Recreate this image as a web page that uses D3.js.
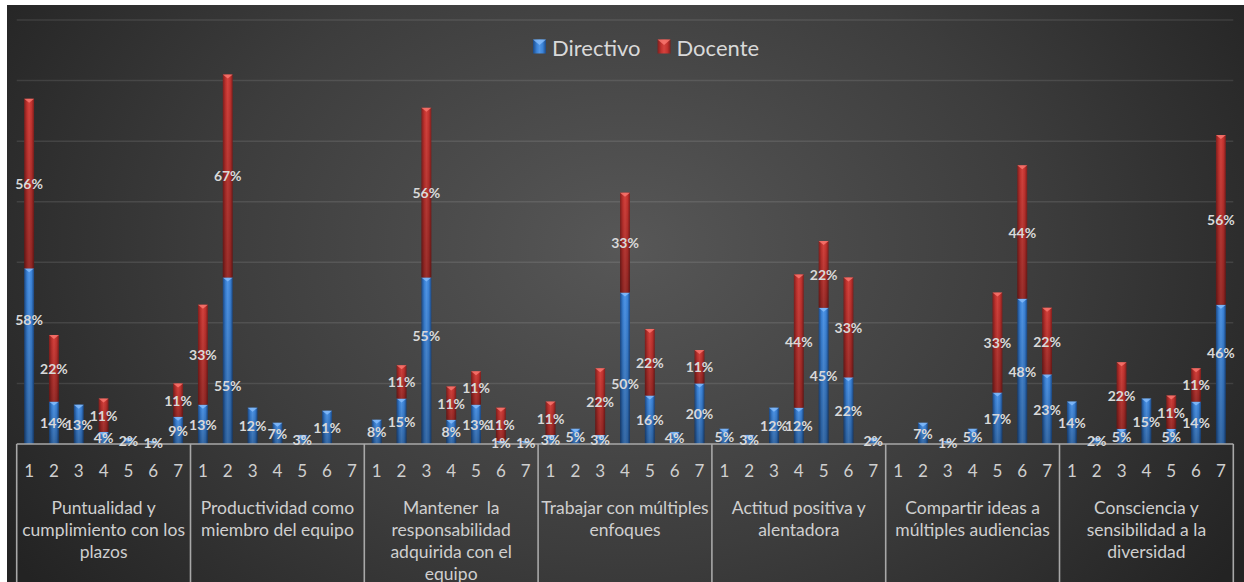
<!DOCTYPE html>
<html>
<head>
<meta charset="utf-8">
<script src="https://cdn.jsdelivr.net/npm/d3@7"></script>
<style>
  html, body { margin: 0; padding: 0; background: #ffffff; }
  svg { display: block; }
  text { font-family: Lato, "Open Sans", sans-serif; }
</style>
</head>
<body>
<svg id="chart" width="1244" height="582"></svg>
<script>
// Competencies (group labels, line breaks where the axis wraps them)
const categories = [
  "Puntualidad y\ncumplimiento con los\nplazos",
  "Productividad como\nmiembro del equipo",
  "Mantener  la\nresponsabilidad\nadquirida con el\nequipo",
  "Trabajar con múltiples\nenfoques",
  "Actitud positiva y\nalentadora",
  "Compartir ideas a\nmúltiples audiencias",
  "Consciencia y\nsensibilidad a la\ndiversidad"
];
// Rating scale points within each competency
const scalePoints = ["1", "2", "3", "4", "5", "6", "7"];
const seriesNames = ["Directivo", "Docente"];

// Percentages per competency, one value per scale point
const directivo = [
  [58, 14, 13, 4, 2, 1, 9],
  [13, 55, 12, 7, 3, 11, 0],
  [8, 15, 55, 8, 13, 1, 1],
  [3, 5, 3, 50, 16, 4, 20],
  [5, 3, 12, 12, 45, 22, 2],
  [0, 7, 1, 5, 17, 48, 23],
  [14, 2, 5, 15, 5, 14, 46]
];
const docente = [
  [56, 22, 0, 11, 0, 0, 11],
  [33, 67, 0, 0, 0, 0, 0],
  [0, 11, 56, 11, 11, 11, 0],
  [11, 0, 22, 33, 22, 0, 11],
  [0, 0, 0, 44, 22, 33, 0],
  [0, 0, 0, 0, 33, 44, 22],
  [0, 0, 22, 0, 11, 11, 56]
];
const yTicks = [20, 40, 60, 80, 100, 120, 140];

// A few labels sit off the middle of their segment so they don't collide
const labelAnchor = { "0-0-0": 0.71, "1-1-0": 0.35, "2-2-0": 0.65, "3-3-0": 0.40, "6-6-0": 0.66 };

const W = 1244, H = 582;
const plot = { left: 16.7, right: 1233.3, top: 20, bottom: 444 };
const svg = d3.select("#chart");
const defs = svg.append("defs");

// Dark radial backdrop
const bg = defs.append("radialGradient").attr("id", "bg")
  .attr("cx", "50%").attr("cy", "42%").attr("r", "60%")
  .attr("gradientTransform", "translate(0.5,0.42) scale(1,1.6) translate(-0.5,-0.42)");
bg.append("stop").attr("offset", "0%").attr("stop-color", "#575757");
bg.append("stop").attr("offset", "55%").attr("stop-color", "#3d3d3d");
bg.append("stop").attr("offset", "100%").attr("stop-color", "#232323");
svg.append("rect").attr("width", W).attr("height", H).attr("fill", "#ffffff");
svg.append("rect").attr("x", 7).attr("y", 5).attr("width", W - 7).attr("height", H - 5).attr("fill", "url(#bg)");

// Cylinder-like shading for the bars
const palettes = {
  Directivo: { edge: "#1c4985", mid: "#3b83d8", hi: "#5196e6", top: "#8cc2ff" },
  Docente:   { edge: "#7f1f1d", mid: "#c4332f", hi: "#d4433e", top: "#ff7e76" }
};
seriesNames.forEach(name => {
  const p = palettes[name];
  const g = defs.append("linearGradient").attr("id", "grad-" + name)
    .attr("x1", "0").attr("x2", "1").attr("y1", "0").attr("y2", "0");
  g.append("stop").attr("offset", "0%").attr("stop-color", p.edge);
  g.append("stop").attr("offset", "30%").attr("stop-color", p.mid);
  g.append("stop").attr("offset", "50%").attr("stop-color", p.hi);
  g.append("stop").attr("offset", "75%").attr("stop-color", p.mid);
  g.append("stop").attr("offset", "100%").attr("stop-color", p.edge);
});
const shade = defs.append("linearGradient").attr("id", "shade")
  .attr("x1", "0").attr("x2", "0").attr("y1", "0").attr("y2", "1");
shade.append("stop").attr("offset", "0%").attr("stop-color", "#000").attr("stop-opacity", 0);
shade.append("stop").attr("offset", "100%").attr("stop-color", "#000").attr("stop-opacity", 0.28);

// Scales
const x0 = d3.scaleBand().domain(categories).range([plot.left, plot.right]).padding(0);
const x1 = d3.scaleBand().domain(scalePoints).range([0, x0.bandwidth()])
  .paddingInner(0.6).paddingOuter(0.3);
const y = d3.scaleLinear().domain([0, 140]).range([plot.bottom, plot.top]);

// Gridlines
svg.append("g").selectAll("line").data(yTicks).join("line")
  .attr("x1", plot.left).attr("x2", plot.right)
  .attr("y1", d => y(d)).attr("y2", d => y(d))
  .attr("stroke", "#ffffff").attr("stroke-opacity", 0.1).attr("stroke-width", 1.5);

// Flatten into stacked segments
const segments = [];
categories.forEach((cat, gi) => {
  scalePoints.forEach((pt, pi) => {
    let base = 0;
    [directivo, docente].forEach((arr, si) => {
      const v = arr[gi][pi];
      segments.push({ gi, pi, si, cat, pt, series: seriesNames[si], v, y0: base, y1: base + v });
      base += v;
    });
  });
});
const drawn = segments.filter(d => d.v > 0);

const barX = d => x0(d.cat) + x1(d.pt);
const bw = x1.bandwidth();

const bars = svg.append("g").selectAll("g").data(drawn).join("g");
bars.append("rect")
  .attr("x", barX).attr("width", bw)
  .attr("y", d => y(d.y1)).attr("height", d => y(d.y0) - y(d.y1))
  .attr("fill", d => `url(#grad-${d.series})`);
bars.append("rect")
  .attr("x", barX).attr("width", bw)
  .attr("y", d => y(d.y1)).attr("height", d => y(d.y0) - y(d.y1))
  .attr("fill", "url(#shade)");
// bevelled cap at the top of each segment
bars.append("path")
  .attr("d", d => {
    const xa = barX(d), xb = xa + bw, t = y(d.y1);
    const h = Math.min(4, y(d.y0) - y(d.y1));
    return `M${xa},${t}L${xb},${t}L${xa + bw / 2},${t + h}Z`;
  })
  .attr("fill", d => palettes[d.series].top).attr("fill-opacity", 0.75);

// Axis: baseline, group separators, scale-point ticks and group names
const axis = svg.append("g");
axis.append("line")
  .attr("x1", plot.left).attr("x2", plot.right)
  .attr("y1", plot.bottom).attr("y2", plot.bottom)
  .attr("stroke", "#a8a8a8").attr("stroke-width", 1.6);
const seps = categories.map(c => x0(c)).concat([plot.right]);
axis.selectAll("line.sep").data(seps).join("line").attr("class", "sep")
  .attr("x1", d => d).attr("x2", d => d)
  .attr("y1", plot.bottom).attr("y2", H)
  .attr("stroke", "#a8a8a8").attr("stroke-width", 1.6);

categories.forEach(cat => {
  axis.append("g").selectAll("text").data(scalePoints).join("text")
    .attr("x", d => x0(cat) + x1(d) + bw / 2)
    .attr("y", 470)
    .attr("text-anchor", "middle").attr("dominant-baseline", "central")
    .attr("fill", "#cfcfcf").attr("font-size", 17)
    .text(d => d);
  const lines = cat.split("\n");
  axis.append("g").selectAll("text").data(lines).join("text")
    .attr("x", x0(cat) + x0.bandwidth() / 2)
    .attr("y", (d, i) => 507 + i * 22)
    .attr("text-anchor", "middle").attr("dominant-baseline", "central")
    .attr("fill", "#cfcfcf").attr("font-size", 17.5)
    .style("white-space", "pre")
    .text(d => d);
});

// Value labels
svg.append("g").selectAll("text").data(drawn).join("text")
  .attr("x", d => barX(d) + bw / 2)
  .attr("y", d => {
    const f = labelAnchor[`${d.gi}-${d.pi}-${d.si}`] ?? 0.5;
    return y(d.y0 + (d.y1 - d.y0) * f);
  })
  .attr("text-anchor", "middle").attr("dominant-baseline", "central")
  .attr("fill", "#d9d9d9").attr("font-size", 14).attr("font-weight", "bold")
  .text(d => d.v + "%");

// Legend
const legend = svg.append("g");
let lx = 533;
seriesNames.forEach(name => {
  const p = palettes[name];
  legend.append("rect").attr("x", lx).attr("y", 39.5).attr("width", 13).attr("height", 14)
    .attr("fill", `url(#grad-${name})`);
  legend.append("path")
    .attr("d", `M${lx},39.5L${lx + 13},39.5L${lx + 6.5},45Z`)
    .attr("fill", p.top).attr("fill-opacity", 0.75);
  const t = legend.append("text").attr("x", lx + 19).attr("y", 47)
    .attr("dominant-baseline", "central")
    .attr("fill", "#d9d9d9").attr("font-size", 22)
    .text(name);
  lx += 19 + t.node().getComputedTextLength() + 17;
});
</script>
</body>
</html>
